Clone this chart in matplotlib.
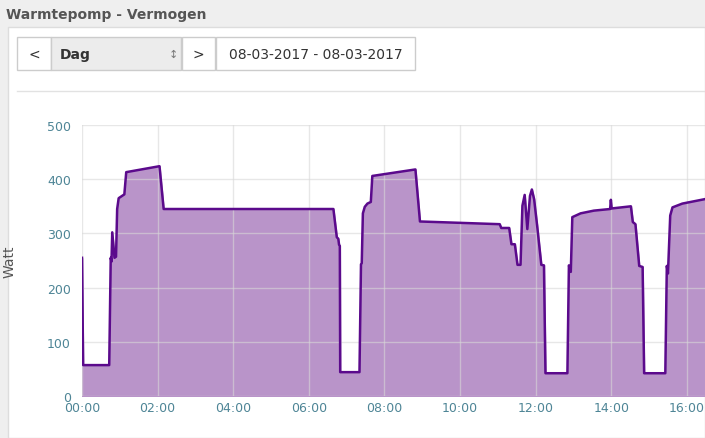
import numpy as np
import matplotlib.pyplot as plt
from matplotlib.patches import Rectangle

# ================= data (hours, Watt) =================
hours = [0.00, 0.03, 0.72, 0.76, 0.78, 0.80, 0.86, 0.90, 0.93, 0.97, 1.12, 1.17, 2.05, 2.16,
         6.65, 6.74, 6.78, 6.80, 6.82, 6.83, 7.34, 7.38, 7.40, 7.43, 7.48, 7.55, 7.64, 7.68,
         8.82, 8.94, 11.05, 11.09, 11.30, 11.36, 11.45, 11.52, 11.60, 11.65, 11.71, 11.78,
         11.85, 11.90, 11.96, 12.04, 12.15, 12.22, 12.26, 12.84, 12.88, 12.93, 12.97, 13.19,
         13.54, 13.97, 13.99, 14.01, 14.52, 14.57, 14.64, 14.74, 14.83, 14.87, 15.43, 15.47,
         15.50, 15.56, 15.62, 15.88, 16.46]
watt = [255, 57, 57, 255, 248, 302, 255, 257, 345, 365, 372, 413, 424, 345,
        345, 293, 290, 279, 277, 44, 44, 243, 245, 337, 349, 355, 358, 406,
        418, 322, 317, 310, 310, 280, 280, 242, 242, 351, 371, 308,
        369, 381, 363, 314, 242, 241, 42, 42, 241, 229, 330, 337,
        342, 345, 362, 346, 350, 321, 317, 240, 238, 42, 42, 240,
        226, 333, 348, 355, 363]
xticks = [0, 2, 4, 6, 8, 10, 12, 14, 16]
xlabels = ["00:00", "02:00", "04:00", "06:00", "08:00", "10:00", "12:00", "14:00", "16:00"]
yticks = [0, 100, 200, 300, 400, 500]

W, H = 705, 439
fig = plt.figure(figsize=(W / 100, H / 100), dpi=100, facecolor="#efefef")

def px(x, y):
    return x / W, 1 - y / H

# ================= panel / UI =================
fig.patches.append(Rectangle(px(8, 439), (W - 8) / W, (439 - 28) / H, transform=fig.transFigure,
                             facecolor="white", edgecolor="#dddddd", lw=1, zorder=-2))
fig.text(*px(6, 15), "Warmtepomp - Vermogen", fontsize=10, color="#555555",
         fontweight="bold", va="center")
for x0, x1, fc in [(17, 51, "white"), (51, 181, "#ececec"), (182, 215, "white"), (216, 415, "white")]:
    fig.patches.append(Rectangle(px(x0, 71), (x1 - x0) / W, 33 / H, transform=fig.transFigure,
                                 facecolor=fc, edgecolor="#cccccc", lw=1, zorder=-1))
fig.text(*px(34, 55), "<", fontsize=10, color="#333333", ha="center", va="center")
fig.text(*px(60, 55), "Dag", fontsize=10, color="#333333", fontweight="bold", va="center")
fig.text(*px(173, 55), "\u2195", fontsize=8, color="#777777", ha="center", va="center")
fig.text(*px(198, 55), ">", fontsize=10, color="#333333", ha="center", va="center")
fig.text(*px(229, 55), "08-03-2017 - 08-03-2017", fontsize=10, color="#333333", va="center")
fig.lines.append(plt.Line2D([17 / W, 1], [1 - 92 / H] * 2, transform=fig.transFigure,
                            color="#e2e2e2", lw=1))

# ================= chart =================
ax = fig.add_axes([82 / W, 42 / H, (W - 82) / W, 271 / H])
ax.set_zorder(5)
ax.set_facecolor("none")
ax.fill_between(hours, watt, color="#b994c9", zorder=2)
ax.plot(hours, watt, color="#5b0a8c", lw=1.8, zorder=3)
ax.set_xlim(0, 16.48)
ax.set_ylim(0, 500)
ax.set_xticks(xticks)
ax.set_xticklabels(xlabels)
ax.set_yticks(yticks)
ax.grid(True, color="#d8d8d8", lw=1, alpha=0.6, zorder=4)
ax.set_axisbelow(False)
for s in ax.spines.values():
    s.set_visible(False)
ax.tick_params(length=0, colors="#4e8596", labelsize=9)
ax.tick_params(axis="y", pad=8)
ax.set_ylabel("Watt", color="#555555", fontsize=10, labelpad=22)

fig.savefig("out.png", dpi=100, facecolor=fig.get_facecolor())
